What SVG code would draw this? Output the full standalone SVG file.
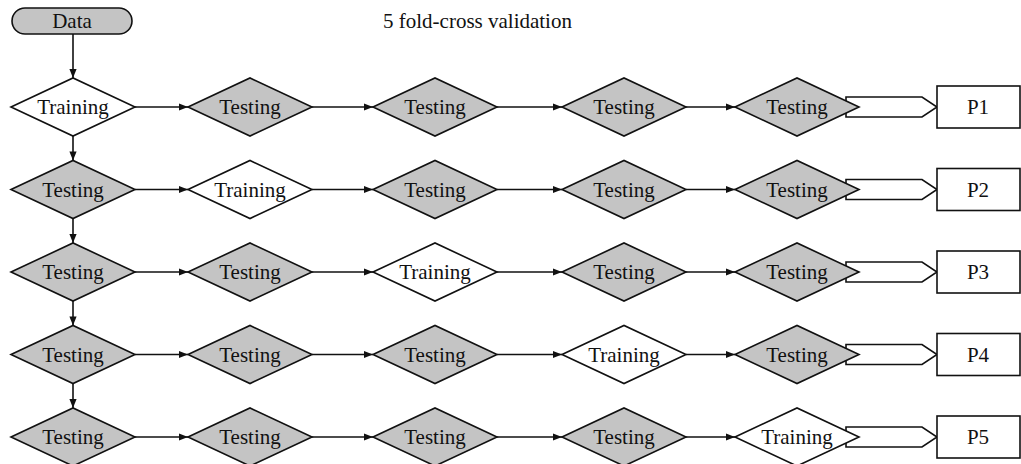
<svg xmlns="http://www.w3.org/2000/svg" width="1021" height="464" viewBox="0 0 1021 464">
  <style>
    .lbl { font-family: "Liberation Serif", "Times New Roman", serif; font-size: 21px; fill: #111; text-anchor: middle; }
    .title { font-family: "Liberation Serif", "Times New Roman", serif; font-size: 21px; fill: #111; }
    .test { fill: #c4c4c4; stroke: #111; stroke-width: 1.6; }
    .train { fill: #ffffff; stroke: #111; stroke-width: 1.6; }
    .out { fill: #ffffff; stroke: #111; stroke-width: 1.6; }
    .conn { stroke: #111; stroke-width: 1.6; fill: none; marker-end: url(#ah); }
  </style>
  <defs>
    <marker id="ah" viewBox="0 0 10 10" refX="10" refY="5" markerWidth="10" markerHeight="9" markerUnits="userSpaceOnUse" orient="auto">
      <path d="M0,1 L10,5 L0,9 z" fill="#111"/>
    </marker>
    <polygon id="dia" points="-62,0 0,-29 62,0 0,29"/>
  </defs>

  <rect width="1021" height="464" fill="#ffffff"/>

  <text class="title" x="383" y="28">5 fold-cross validation</text>

  <!-- source -->
  <g id="data">
    <rect x="12" y="8" width="120" height="26" rx="13" class="test"/>
    <text class="lbl" x="72" y="28">Data</text>
  </g>

  <!-- connectors -->
  <g id="connectors">
    <line class="conn" x1="73" y1="34" x2="73" y2="78"/>
    <line class="conn" x1="73" y1="136" x2="73" y2="160.5"/>
    <line class="conn" x1="73" y1="218.5" x2="73" y2="243"/>
    <line class="conn" x1="73" y1="301" x2="73" y2="325.5"/>
    <line class="conn" x1="73" y1="383.5" x2="73" y2="408"/>

    <line class="conn" x1="135" y1="107" x2="188" y2="107"/>
    <line class="conn" x1="312" y1="107" x2="373" y2="107"/>
    <line class="conn" x1="497" y1="107" x2="562" y2="107"/>
    <line class="conn" x1="686" y1="107" x2="735" y2="107"/>

    <line class="conn" x1="135" y1="189.5" x2="188" y2="189.5"/>
    <line class="conn" x1="312" y1="189.5" x2="373" y2="189.5"/>
    <line class="conn" x1="497" y1="189.5" x2="562" y2="189.5"/>
    <line class="conn" x1="686" y1="189.5" x2="735" y2="189.5"/>

    <line class="conn" x1="135" y1="272" x2="188" y2="272"/>
    <line class="conn" x1="312" y1="272" x2="373" y2="272"/>
    <line class="conn" x1="497" y1="272" x2="562" y2="272"/>
    <line class="conn" x1="686" y1="272" x2="735" y2="272"/>

    <line class="conn" x1="135" y1="354.5" x2="188" y2="354.5"/>
    <line class="conn" x1="312" y1="354.5" x2="373" y2="354.5"/>
    <line class="conn" x1="497" y1="354.5" x2="562" y2="354.5"/>
    <line class="conn" x1="686" y1="354.5" x2="735" y2="354.5"/>

    <line class="conn" x1="135" y1="437" x2="188" y2="437"/>
    <line class="conn" x1="312" y1="437" x2="373" y2="437"/>
    <line class="conn" x1="497" y1="437" x2="562" y2="437"/>
    <line class="conn" x1="686" y1="437" x2="735" y2="437"/>

    <!-- block arrows to results -->
    <polygon class="out" points="846,97 922,97 937,107 922,117 846,117"/>
    <polygon class="out" points="846,179.5 922,179.5 937,189.5 922,199.5 846,199.5"/>
    <polygon class="out" points="846,262 922,262 937,272 922,282 846,282"/>
    <polygon class="out" points="846,344.5 922,344.5 937,354.5 922,364.5 846,364.5"/>
    <polygon class="out" points="846,427 922,427 937,437 922,447 846,447"/>
  </g>

  <!-- row 1 -->
  <g id="r1c1" transform="translate(73,107)"><use href="#dia" class="train"/><text class="lbl" y="7">Training</text></g>
  <g id="r1c2" transform="translate(250,107)"><use href="#dia" class="test"/><text class="lbl" y="7">Testing</text></g>
  <g id="r1c3" transform="translate(435,107)"><use href="#dia" class="test"/><text class="lbl" y="7">Testing</text></g>
  <g id="r1c4" transform="translate(624,107)"><use href="#dia" class="test"/><text class="lbl" y="7">Testing</text></g>
  <g id="r1c5" transform="translate(797,107)"><use href="#dia" class="test"/><text class="lbl" y="7">Testing</text></g>
  <g id="p1"><rect class="out" x="937" y="86" width="83" height="42"/><text class="lbl" x="978" y="114">P1</text></g>

  <!-- row 2 -->
  <g id="r2c1" transform="translate(73,189.5)"><use href="#dia" class="test"/><text class="lbl" y="7">Testing</text></g>
  <g id="r2c2" transform="translate(250,189.5)"><use href="#dia" class="train"/><text class="lbl" y="7">Training</text></g>
  <g id="r2c3" transform="translate(435,189.5)"><use href="#dia" class="test"/><text class="lbl" y="7">Testing</text></g>
  <g id="r2c4" transform="translate(624,189.5)"><use href="#dia" class="test"/><text class="lbl" y="7">Testing</text></g>
  <g id="r2c5" transform="translate(797,189.5)"><use href="#dia" class="test"/><text class="lbl" y="7">Testing</text></g>
  <g id="p2"><rect class="out" x="937" y="168.5" width="83" height="42"/><text class="lbl" x="978" y="196.5">P2</text></g>

  <!-- row 3 -->
  <g id="r3c1" transform="translate(73,272)"><use href="#dia" class="test"/><text class="lbl" y="7">Testing</text></g>
  <g id="r3c2" transform="translate(250,272)"><use href="#dia" class="test"/><text class="lbl" y="7">Testing</text></g>
  <g id="r3c3" transform="translate(435,272)"><use href="#dia" class="train"/><text class="lbl" y="7">Training</text></g>
  <g id="r3c4" transform="translate(624,272)"><use href="#dia" class="test"/><text class="lbl" y="7">Testing</text></g>
  <g id="r3c5" transform="translate(797,272)"><use href="#dia" class="test"/><text class="lbl" y="7">Testing</text></g>
  <g id="p3"><rect class="out" x="937" y="251" width="83" height="42"/><text class="lbl" x="978" y="279">P3</text></g>

  <!-- row 4 -->
  <g id="r4c1" transform="translate(73,354.5)"><use href="#dia" class="test"/><text class="lbl" y="7">Testing</text></g>
  <g id="r4c2" transform="translate(250,354.5)"><use href="#dia" class="test"/><text class="lbl" y="7">Testing</text></g>
  <g id="r4c3" transform="translate(435,354.5)"><use href="#dia" class="test"/><text class="lbl" y="7">Testing</text></g>
  <g id="r4c4" transform="translate(624,354.5)"><use href="#dia" class="train"/><text class="lbl" y="7">Training</text></g>
  <g id="r4c5" transform="translate(797,354.5)"><use href="#dia" class="test"/><text class="lbl" y="7">Testing</text></g>
  <g id="p4"><rect class="out" x="937" y="333.5" width="83" height="42"/><text class="lbl" x="978" y="361.5">P4</text></g>

  <!-- row 5 -->
  <g id="r5c1" transform="translate(73,437)"><use href="#dia" class="test"/><text class="lbl" y="7">Testing</text></g>
  <g id="r5c2" transform="translate(250,437)"><use href="#dia" class="test"/><text class="lbl" y="7">Testing</text></g>
  <g id="r5c3" transform="translate(435,437)"><use href="#dia" class="test"/><text class="lbl" y="7">Testing</text></g>
  <g id="r5c4" transform="translate(624,437)"><use href="#dia" class="test"/><text class="lbl" y="7">Testing</text></g>
  <g id="r5c5" transform="translate(797,437)"><use href="#dia" class="train"/><text class="lbl" y="7">Training</text></g>
  <g id="p5"><rect class="out" x="937" y="416" width="83" height="42"/><text class="lbl" x="978" y="444">P5</text></g>
</svg>
